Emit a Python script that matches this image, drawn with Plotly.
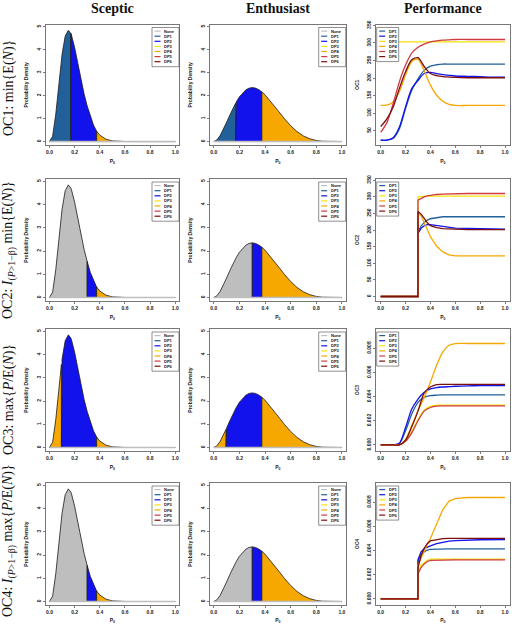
import plotly.graph_objects as go

FIG_W, FIG_H = 512, 624

# ---------------- data ----------------
categories = ["None", "DP1", "DP2", "DP3", "DP4", "DP5", "DP6"]
cat_colors = ["#BEBEBE", "#22609A", "#1212EC", "#F4E10A", "#F7A800", "#D13B40", "#7A0E0E"]

col_titles = ["Sceptic", "Enthusiast", "Performance"]
row_labels = [
    "OC1: min{E(<i>N</i>)}",
    "OC2: <i>I</i><sub>(<i>P</i>&gt;1−β)</sub> min{E(<i>N</i>)}",
    "OC3: max{<i>P</i>/E(<i>N</i>)}",
    "OC4: <i>I</i><sub>(<i>P</i>&gt;1−β)</sub> max{<i>P</i>/E(<i>N</i>)}",
]
oc_names = ["OC1", "OC2", "OC3", "OC4"]

# prior densities
p_grid = [0, 0.025, 0.05, 0.075, 0.095, 0.1, 0.125, 0.15, 0.17, 0.175, 0.2, 0.225, 0.25,
          0.275, 0.3, 0.325, 0.35, 0.375, 0.4, 0.45, 0.5, 0.55, 0.6, 0.65, 0.7, 0.75,
          0.8, 0.85, 0.9, 0.95, 1.0]
sceptic_density = [0, 0.231, 1.19, 2.553, 3.577, 3.797, 4.594, 4.848, 4.71, 4.635, 4.102,
                   3.42, 2.71, 2.08, 1.55, 1.08, 0.72, 0.45, 0.28, 0.1, 0.03, 0.008, 0.002,
                   0, 0, 0, 0, 0, 0, 0, 0]
enthusiast_density = [0, 0.077, 0.272, 0.54, 0.782, 0.844, 1.156, 1.454, 1.671, 1.722, 1.948,
                      2.126, 2.252, 2.327, 2.351, 2.328, 2.264, 2.164, 2.035, 1.716, 1.358,
                      1.005, 0.69, 0.434, 0.245, 0.12, 0.048, 0.014, 0.002, 0, 0]

# optimal decision regions for each OC (cut points, category per region)
oc1_cuts = [0.0, 0.17, 0.375, 1.0]
oc1_regions = ["DP1", "DP2", "DP4"]
oc2_cuts = [0.0, 0.3, 0.375, 1.0]
oc2_regions = ["None", "DP2", "DP4"]
oc3_cuts = [0.0, 0.095, 0.375, 1.0]
oc3_regions = ["DP4", "DP2", "DP4"]
oc4_cuts = [0.0, 0.3, 0.375, 1.0]
oc4_regions = ["None", "DP2", "DP4"]

# performance curves
perf_p = [0, 0.05, 0.1, 0.15, 0.2, 0.25, 0.3, 0.35, 0.4, 0.45, 0.5, 0.55, 0.6, 0.7, 0.8, 0.9, 1.0]
oc1_dp1 = [23, 23, 28, 55, 113, 165, 198, 222, 234, 238, 240, 240, 240, 240, 240, 240, 240]
oc1_dp2 = [23, 23, 30, 60, 118, 170, 193, 213, 216, 213, 210, 208, 206, 205, 204, 203, 203]
oc1_dp3 = [303, 303, 303, 303, 303, 303, 303, 303, 303, 303, 303, 303, 303, 303, 303, 303, 303]
oc1_dp4 = [122, 123, 132, 161, 209, 247, 254, 220, 180, 151, 134, 125, 122, 122, 122, 122, 122]
oc1_dp5 = [45, 73, 127, 189, 237, 271, 288, 297, 303, 306, 308, 309, 310, 310, 310, 310, 310]
oc1_dp6 = [62, 84, 117, 170, 218, 252, 258, 233, 213, 207, 204, 203, 202, 201, 201, 201, 201]

oc3_dp1 = [0, 0, 0, 0.0001, 0.00117, 0.00256, 0.00353, 0.00394, 0.00408, 0.00412, 0.00414,
           0.00414, 0.00414, 0.00414, 0.00414, 0.00414, 0.00414]
oc3_dp2 = [0, 0, 0, 0.00014, 0.00144, 0.00297, 0.0038, 0.00436, 0.00464, 0.00475, 0.0048,
           0.00483, 0.00486, 0.00489, 0.00491, 0.00492, 0.00492]
oc3_dp3 = [0, 0, 0, 0, 0.0003, 0.0011, 0.0021, 0.0029, 0.0032, 0.0033, 0.0033, 0.0033,
           0.0033, 0.0033, 0.0033, 0.0033, 0.0033]
oc3_dp4 = [0, 0, 0, 0, 0.00047, 0.0016, 0.00283, 0.00394, 0.0052, 0.0066, 0.0077, 0.00825,
           0.00839, 0.0084, 0.0084, 0.0084, 0.0084]
oc3_dp5 = [0, 0, 0, 0, 0.0003, 0.001, 0.002, 0.0028, 0.0031, 0.00322, 0.00323, 0.00323,
           0.00323, 0.00323, 0.00323, 0.00323, 0.00323]
oc3_dp6 = [0, 0, 0, 0, 0.0004, 0.0015, 0.0028, 0.0043, 0.0048, 0.005, 0.00502, 0.00502,
           0.00502, 0.00502, 0.00502, 0.00502, 0.00502]

step_p = [0, 0.1, 0.2, 0.3, 0.3, 0.325, 0.35, 0.375, 0.4, 0.45, 0.5, 0.55, 0.6, 0.7, 0.8, 1.0]
oc2_dp1 = [0, 0, 0, 0, 195, 212, 223, 230, 234, 238, 240, 240, 240, 240, 240, 240]
oc2_dp2 = [0, 0, 0, 0, 190, 205, 213, 216, 216, 213, 210, 208, 206, 205, 204, 203]
oc2_dp3 = [0, 0, 0, 0, 300, 302, 302, 302, 302, 302, 302, 302, 302, 302, 302, 302]
oc2_dp4 = [0, 0, 0, 0, 253, 242, 222, 200, 180, 151, 134, 125, 122, 122, 122, 122]
oc2_dp5 = [0, 0, 0, 0, 290, 296, 300, 303, 305, 307, 308, 309, 310, 310, 310, 310]
oc2_dp6 = [0, 0, 0, 0, 256, 248, 235, 222, 213, 207, 204, 203, 202, 201, 201, 201]

oc4_dp1 = [0, 0, 0, 0, 0.0031, 0.0037, 0.0039, 0.00405, 0.0041, 0.00413, 0.00414, 0.00414,
           0.00414, 0.00414, 0.00414, 0.00414]
oc4_dp2 = [0, 0, 0, 0, 0.00325, 0.0039, 0.00417, 0.0043, 0.0044, 0.00458, 0.0047, 0.00478,
           0.00483, 0.00488, 0.0049, 0.00492]
oc4_dp3 = [0, 0, 0, 0, 0.0022, 0.0028, 0.003, 0.0032, 0.0033, 0.0033, 0.0033, 0.0033,
           0.0033, 0.0033, 0.0033, 0.0033]
oc4_dp4 = [0, 0, 0, 0, 0.0028, 0.0034, 0.0039, 0.0045, 0.005, 0.0062, 0.0074, 0.0081,
           0.0083, 0.0084, 0.0084, 0.0084]
oc4_dp5 = [0, 0, 0, 0, 0.0021, 0.0026, 0.0029, 0.0031, 0.0032, 0.00322, 0.00323, 0.00323,
           0.00323, 0.00323, 0.00323, 0.00323]
oc4_dp6 = [0, 0, 0, 0, 0.0026, 0.0036, 0.0042, 0.0046, 0.0048, 0.0049, 0.005, 0.00502,
           0.00502, 0.00502, 0.00502, 0.00502]

density_ticks = [0, 1, 2, 3, 4, 5]
p_ticks = [0.0, 0.2, 0.4, 0.6, 0.8, 1.0]
p_ticklabels = ["0.0", "0.2", "0.4", "0.6", "0.8", "1.0"]
oc1_ticks = [50, 100, 150, 200, 250, 300, 350]
oc2_ticks = [0, 50, 100, 150, 200, 250, 300, 350]
oc3_ticks = [0.0, 0.002, 0.004, 0.006, 0.008]
oc3_ticklabels = ["0.000", "0.002", "0.004", "0.006", "0.008"]

# ---------------- layout geometry (pixels) ----------------
col_px = [(45.7, 179.0), (210.0, 345.7), (375.7, 510.0)]
row_px = [(24.5, 145.0), (179.0, 301.0), (329.0, 451.0), (483.0, 605.0)]

cuts_by_row = [(oc1_cuts, oc1_regions), (oc2_cuts, oc2_regions),
               (oc3_cuts, oc3_regions), (oc4_cuts, oc4_regions)]
perf_by_row = [
    (perf_p, [oc1_dp1, oc1_dp2, oc1_dp3, oc1_dp4, oc1_dp5, oc1_dp6], "spline"),
    (step_p, [oc2_dp1, oc2_dp2, oc2_dp3, oc2_dp4, oc2_dp5, oc2_dp6], "linear"),
    (perf_p, [oc3_dp1, oc3_dp2, oc3_dp3, oc3_dp4, oc3_dp5, oc3_dp6], "spline"),
    (step_p, [oc4_dp1, oc4_dp2, oc4_dp3, oc4_dp4, oc4_dp5, oc4_dp6], "linear"),
]
perf_yaxis = [
    ([9.3, 352.7], oc1_ticks, [str(t) for t in oc1_ticks]),
    ([-13.6, 353.6], oc2_ticks, [str(t) for t in oc2_ticks]),
    ([-0.0005, 0.0096], oc3_ticks, oc3_ticklabels),
    ([-0.0005, 0.0096], oc3_ticks, oc3_ticklabels),
]

fig = go.Figure()
shapes, annotations = [], []
layout_axes = {}

tick_font = dict(family="Liberation Sans", size=5, color="#222", weight="bold")
title_font = dict(family="Liberation Sans", size=5, color="#222", weight="bold")
leg_font = dict(family="Liberation Sans", size=4, color="#111", weight="bold")


def axis_common():
    return dict(showgrid=False, zeroline=False, showline=True, mirror=True,
                linecolor="#555", linewidth=0.8, ticks="outside", ticklen=2,
                tickwidth=0.7, tickcolor="#444", tickfont=tick_font,
                ticklabeloverflow="allow", automargin=True)


def add_legend(n, wpx, hpx, left_px, top_px, box_w, items):
    xr, yr = f"x{'' if n == 1 else n} domain", f"y{'' if n == 1 else n} domain"
    box_h = 3.5 + 5.1 * len(items)
    shapes.append(dict(type="rect", xref=xr, yref=yr,
                       x0=left_px / wpx, x1=(left_px + box_w) / wpx,
                       y0=1 - top_px / hpx, y1=1 - (top_px + box_h) / hpx,
                       line=dict(color="#444", width=0.6), fillcolor="white"))
    for k, (name, color) in enumerate(items):
        yc = 1 - (top_px + 3.6 + 5.1 * k) / hpx
        shapes.append(dict(type="line", xref=xr, yref=yr,
                           x0=(left_px + 2.5) / wpx, x1=(left_px + 8.5) / wpx,
                           y0=yc, y1=yc, line=dict(color=color, width=1.2)))
        annotations.append(dict(xref=xr, yref=yr, x=(left_px + 10) / wpx, y=yc,
                                text=name, showarrow=False, xanchor="left",
                                yanchor="middle", font=leg_font))


for r in range(4):
    top, bot = row_px[r]
    hpx = bot - top
    for c in range(3):
        n = r * 3 + c + 1
        sfx = "" if n == 1 else str(n)
        xa, ya = "x" + sfx, "y" + sfx
        left, right = col_px[c]
        wpx = right - left
        xdom = [left / FIG_W, right / FIG_W]
        ydom = [1 - bot / FIG_H, 1 - top / FIG_H]

        xax = axis_common()
        xax.update(domain=xdom, anchor=ya, tickvals=p_ticks, ticktext=p_ticklabels,
                   title=dict(text="P<sub>0</sub>", font=title_font, standoff=5))
        yax = axis_common()
        yax.update(domain=ydom, anchor=xa, tickangle=-90)

        if c < 2:
            dens = sceptic_density if c == 0 else enthusiast_density
            cuts, regions = cuts_by_row[r]
            for i, cat in enumerate(regions):
                a, b = cuts[i], cuts[i + 1]
                xs = [a] + [p for p in p_grid if a <= p <= b] + [b, a]
                ys = [0] + [d for p, d in zip(p_grid, dens) if a <= p <= b] + [0, 0]
                fig.add_trace(go.Scatter(
                    x=xs, y=ys, xaxis=xa, yaxis=ya, mode="lines", fill="toself",
                    fillcolor=cat_colors[categories.index(cat)],
                    line=dict(color="#1a1a1a", width=0.8),
                    showlegend=False, hoverinfo="skip"))
            # baseline
            fig.add_trace(go.Scatter(
                x=[p_grid[0], p_grid[-1]], y=[0, 0], xaxis=xa, yaxis=ya, mode="lines",
                line=dict(color="#BEBEBE", width=1.6), showlegend=False, hoverinfo="skip"))
            xax.update(range=[-0.03, 1.03])
            yax.update(range=[-0.15, 5.1], tickvals=density_ticks,
                       ticktext=[str(t) for t in density_ticks],
                       title=dict(text="Probability Density", font=title_font, standoff=7))
            add_legend(n, wpx, hpx, wpx - 27, 3, 27,
                       list(zip(categories, cat_colors)))
        else:
            px_vals, series, shape = perf_by_row[r]
            for k, ys in enumerate(series):
                fig.add_trace(go.Scatter(
                    x=px_vals, y=ys, xaxis=xa, yaxis=ya, mode="lines",
                    line=dict(color=cat_colors[k + 1], width=1.3, shape=shape,
                              smoothing=0.8 if shape == "spline" else None),
                    showlegend=False, hoverinfo="skip", name=categories[k + 1]))
            rng, tv, tt = perf_yaxis[r]
            xax.update(range=[-0.04, 1.04])
            yax.update(range=rng, tickvals=tv, ticktext=tt,
                       title=dict(text=oc_names[r], font=title_font, standoff=6))
            add_legend(n, wpx, hpx, 1, 3, 22,
                       list(zip(categories[1:], cat_colors[1:])))

        layout_axes["xaxis" + sfx] = xax
        layout_axes["yaxis" + sfx] = yax

# column titles
col_centers = [112, 278, 443]
for c, t in enumerate(col_titles):
    annotations.append(dict(xref="paper", yref="paper", x=col_centers[c] / FIG_W,
                            y=1 - 9 / FIG_H, text=f"<b>{t}</b>", showarrow=False,
                            xanchor="center", yanchor="middle",
                            font=dict(family="Liberation Serif", size=14, color="#111")))
# row labels
row_label_centers = [88, 250, 400, 541]
for r, t in enumerate(row_labels):
    annotations.append(dict(xref="paper", yref="paper", x=9 / FIG_W,
                            y=1 - row_label_centers[r] / FIG_H, text=t, showarrow=False,
                            textangle=-90, xanchor="center", yanchor="middle",
                            font=dict(family="Liberation Serif", size=14, color="#111")))

fig.update_layout(
    width=FIG_W, height=FIG_H, margin=dict(l=0, r=0, t=0, b=0, autoexpand=False),
    paper_bgcolor="white", plot_bgcolor="white", showlegend=False,
    shapes=shapes, annotations=annotations, **layout_axes)

fig.write_html("out.html",
               config={"displayModeBar": False, "staticPlot": True},
               post_script="document.body.style.margin='0px';"
                           "document.body.style.padding='0px';"
                           "document.body.style.overflow='hidden';")
